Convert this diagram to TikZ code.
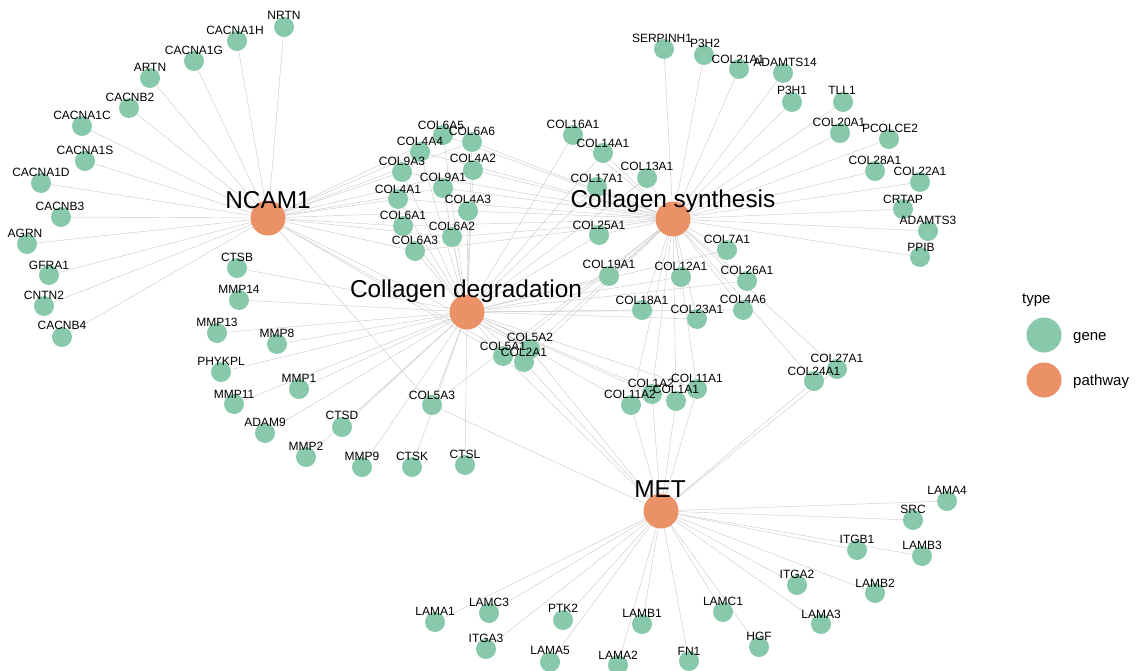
\documentclass[tikz,border=0pt]{standalone}
\usepackage{fontspec}
\setmainfont{Liberation Sans}
\pgfdeclarelayer{edges}
\pgfdeclarelayer{labels}
\pgfsetlayers{edges,main,labels}
\definecolor{genecol}{RGB}{136,200,171}
\definecolor{pathcol}{RGB}{234,145,104}
\definecolor{edgecol}{RGB}{204,204,204}
\tikzset{
 gene/.style={circle,fill=genecol,minimum size=20pt,inner sep=0pt},
 pathw/.style={circle,fill=pathcol,minimum size=35pt,inner sep=0pt},
 lbl/.style={inner sep=0pt,font=\fontsize{12}{12}\selectfont},
 hublbl/.style={inner sep=0pt,anchor=base,font=\fontsize{24.4}{26}\selectfont},
 edge/.style={draw=edgecol,line width=0.45pt},
 leg/.style={inner sep=0pt,anchor=base west,font=\fontsize{15}{16}\selectfont}
}
\newcommand\gn[6]{\node[gene] (#1) at (#2,#3) {};
 \begin{pgfonlayer}{labels}\node[lbl] (#1-l) at (#4,#5) {#6};\end{pgfonlayer}}
\begin{document}
\begin{tikzpicture}[x=1pt,y=-1pt]
\useasboundingbox (0,0) rectangle (1147,671);
% hubs
\node[pathw] (hNCAM) at (268,218) {};
\node[pathw] (hDEG) at (467,312) {};
\node[pathw] (hSYN) at (673,219) {};
\node[pathw] (hMET) at (661,511) {};
\begin{pgfonlayer}{labels}
\node[hublbl] (hNCAM-l) at (268,208) {NCAM1};
\node[hublbl] (hDEG-l) at (466,297) {Collagen degradation};
\node[hublbl] (hSYN-l) at (673,207) {Collagen synthesis};
\node[hublbl] (hMET-l) at (660,497) {MET};
\end{pgfonlayer}
% NCAM1 genes
\gn{NRTN}{284}{27}{284}{15}{NRTN}
\gn{CACNA1H}{237}{41}{235}{30}{CACNA1H}
\gn{CACNA1G}{194}{61}{194}{50}{CACNA1G}
\gn{ARTN}{150}{78}{150}{67}{ARTN}
\gn{CACNB2}{129}{108}{130}{97}{CACNB2}
\gn{CACNA1C}{82}{126}{82}{115}{CACNA1C}
\gn{CACNA1S}{85}{161}{85}{150}{CACNA1S}
\gn{CACNA1D}{41}{183}{41}{172}{CACNA1D}
\gn{CACNB3}{61}{217}{60}{206}{CACNB3}
\gn{AGRN}{27}{244}{25}{233}{AGRN}
\gn{GFRA1}{49}{275}{49}{265}{GFRA1}
\gn{CNTN2}{44}{306}{44}{295}{CNTN2}
\gn{CACNB4}{62}{337}{62}{325}{CACNB4}
% degradation genes
\gn{CTSB}{237}{268}{237}{257}{CTSB}
\gn{MMP14}{239}{300}{239}{289}{MMP14}
\gn{MMP13}{217}{333}{217}{322}{MMP13}
\gn{MMP8}{277}{344}{277}{333}{MMP8}
\gn{PHYKPL}{221}{372}{221}{361}{PHYKPL}
\gn{MMP1}{299}{389}{299}{378}{MMP1}
\gn{MMP11}{234}{404}{234}{394}{MMP11}
\gn{ADAM9}{265}{433}{265}{422}{ADAM9}
\gn{CTSD}{342}{427}{342}{415}{CTSD}
\gn{MMP2}{306}{457}{306}{446}{MMP2}
\gn{MMP9}{362}{467}{362}{456}{MMP9}
\gn{CTSK}{412}{467}{412}{456}{CTSK}
\gn{CTSL}{465}{465}{465}{454}{CTSL}
\gn{COL5A3}{432}{405}{432}{395}{COL5A3}
% middle cluster
\gn{COL6A5}{443}{135}{441}{125}{COL6A5}
\gn{COL6A6}{472}{142}{472}{131}{COL6A6}
\gn{COL4A4}{420}{152}{420}{141}{COL4A4}
\gn{COL9A3}{402}{172}{402}{161}{COL9A3}
\gn{COL4A2}{473}{170}{473}{158}{COL4A2}
\gn{COL9A1}{443}{188}{443}{177}{COL9A1}
\gn{COL4A1}{398}{199}{398}{189}{COL4A1}
\gn{COL4A3}{468}{211}{468}{199}{COL4A3}
\gn{COL6A1}{403}{226}{403}{215}{COL6A1}
\gn{COL6A2}{452}{237}{452}{226}{COL6A2}
\gn{COL6A3}{415}{251}{415}{240}{COL6A3}
% right-middle
\gn{COL16A1}{573}{135}{573}{124}{COL16A1}
\gn{COL14A1}{603}{153}{603}{143}{COL14A1}
\gn{COL13A1}{647}{178}{647}{166}{COL13A1}
\gn{COL17A1}{597}{187}{597}{178}{COL17A1}
\gn{COL25A1}{599}{235}{599}{225}{COL25A1}
\gn{COL19A1}{609}{276}{609}{264}{COL19A1}
\gn{COL12A1}{681}{277}{681}{266}{COL12A1}
\gn{COL7A1}{727}{250}{727}{239}{COL7A1}
\gn{COL26A1}{747}{281}{747}{270}{COL26A1}
\gn{COL18A1}{642}{310}{642}{300}{COL18A1}
\gn{COL23A1}{697}{319}{697}{309}{COL23A1}
\gn{COL4A6}{743}{310}{743}{299}{COL4A6}
\gn{COL5A1}{503}{356}{503}{346}{COL5A1}
\gn{COL5A2}{530}{349}{530}{337}{COL5A2}
\gn{COL2A1}{524}{362}{524}{352}{COL2A1}
\gn{COL11A2}{631}{405}{630}{394}{COL11A2}
\gn{COL1A2}{652}{394}{651}{383}{COL1A2}
\gn{COL1A1}{676}{401}{676}{389}{COL1A1}
\gn{COL11A1}{697}{389}{697}{378}{COL11A1}
\gn{COL24A1}{814}{381}{814}{371}{COL24A1}
\gn{COL27A1}{837}{369}{837}{358}{COL27A1}
% synthesis-only
\gn{SERPINH1}{664}{49}{662}{38}{SERPINH1}
\gn{P3H2}{704}{55}{705}{43}{P3H2}
\gn{COL21A1}{739}{69}{738}{59}{COL21A1}
\gn{ADAMTS14}{783}{73}{785}{62}{ADAMTS14}
\gn{P3H1}{792}{102}{792}{90}{P3H1}
\gn{TLL1}{843}{102}{842}{90}{TLL1}
\gn{COL20A1}{840}{133}{839}{122}{COL20A1}
\gn{PCOLCE2}{889}{139}{890}{128}{PCOLCE2}
\gn{COL28A1}{875}{171}{875}{160}{COL28A1}
\gn{COL22A1}{920}{182}{920}{171}{COL22A1}
\gn{CRTAP}{903}{209}{903}{199}{CRTAP}
\gn{ADAMTS3}{928}{231}{928}{220}{ADAMTS3}
\gn{PPIB}{920}{257}{921}{247}{PPIB}
% MET-only
\gn{LAMA4}{947}{501}{947}{490}{LAMA4}
\gn{SRC}{913}{520}{913}{509}{SRC}
\gn{ITGB1}{857}{550}{857}{539}{ITGB1}
\gn{LAMB3}{922}{556}{922}{545}{LAMB3}
\gn{ITGA2}{797}{585}{797}{574}{ITGA2}
\gn{LAMB2}{875}{593}{875}{583}{LAMB2}
\gn{LAMA3}{821}{624}{821}{614}{LAMA3}
\gn{LAMC1}{723}{612}{723}{601}{LAMC1}
\gn{HGF}{759}{647}{759}{636}{HGF}
\gn{FN1}{689}{661}{689}{651}{FN1}
\gn{LAMB1}{642}{624}{642}{613}{LAMB1}
\gn{LAMA2}{618}{665}{618}{655}{LAMA2}
\gn{LAMA5}{550}{662}{550}{650}{LAMA5}
\gn{PTK2}{563}{620}{563}{608}{PTK2}
\gn{LAMC3}{489}{613}{489}{602}{LAMC3}
\gn{LAMA1}{435}{622}{435}{611}{LAMA1}
\gn{ITGA3}{486}{649}{486}{638}{ITGA3}
% edges
\begin{pgfonlayer}{edges}
\foreach \g in {NRTN,CACNA1H,CACNA1G,ARTN,CACNB2,CACNA1C,CACNA1S,CACNA1D,CACNB3,AGRN,GFRA1,CNTN2,CACNB4,
 COL6A5,COL6A6,COL4A4,COL9A3,COL4A2,COL9A1,COL4A1,COL4A3,COL6A1,COL6A2,COL6A3,COL5A1,COL5A2,COL2A1,COL5A3}
 \draw[edge] (hNCAM) -- (\g);
\foreach \g in {CTSB,MMP14,MMP13,MMP8,PHYKPL,MMP1,MMP11,ADAM9,CTSD,MMP2,MMP9,CTSK,CTSL,COL5A3,
 COL6A5,COL6A6,COL4A4,COL9A3,COL4A2,COL9A1,COL4A1,COL4A3,COL6A1,COL6A2,COL6A3,COL5A1,COL5A2,COL2A1,
 COL16A1,COL14A1,COL13A1,COL17A1,COL25A1,COL19A1,COL12A1,COL7A1,COL26A1,COL18A1,COL23A1,COL4A6,
 COL1A1,COL1A2,COL11A1,COL11A2}
 \draw[edge] (hDEG) -- (\g);
\foreach \g in {SERPINH1,P3H2,COL21A1,ADAMTS14,P3H1,TLL1,COL20A1,PCOLCE2,COL28A1,COL22A1,CRTAP,ADAMTS3,PPIB,
 COL6A5,COL6A6,COL4A4,COL9A3,COL4A2,COL9A1,COL4A1,COL4A3,COL6A1,COL6A2,COL6A3,COL5A1,COL5A2,COL2A1,COL5A3,
 COL16A1,COL14A1,COL13A1,COL17A1,COL25A1,COL19A1,COL12A1,COL7A1,COL26A1,COL18A1,COL23A1,COL4A6,
 COL1A1,COL1A2,COL11A1,COL11A2,COL24A1,COL27A1}
 \draw[edge] (hSYN) -- (\g);
\foreach \g in {LAMA4,SRC,ITGB1,LAMB3,ITGA2,LAMB2,LAMA3,LAMC1,HGF,FN1,LAMB1,LAMA2,LAMA5,PTK2,LAMC3,LAMA1,ITGA3,
 COL5A1,COL5A2,COL2A1,COL5A3,COL1A1,COL1A2,COL11A1,COL11A2,COL24A1,COL27A1}
 \draw[edge] (hMET) -- (\g);
\end{pgfonlayer}
% legend
\node[leg] (legtitle) at (1022,303) {type};
\node[gene,minimum size=35pt] (leggene) at (1044,335) {};
\node[pathw] (legpath) at (1044,380) {};
\node[leg] (leggene-l) at (1073,340) {gene};
\node[leg] (legpath-l) at (1073,385) {pathway};
\end{tikzpicture}
\end{document}
